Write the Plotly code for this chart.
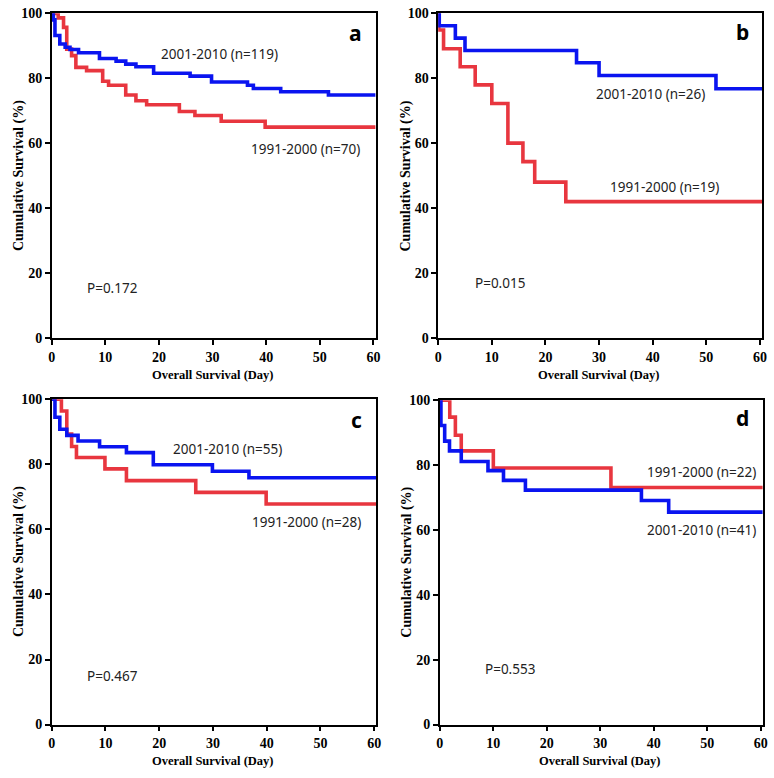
import plotly.graph_objects as go

# ---- data ----
X_MAX = 60.4

# Panel a
a_blue_t = [0, 0.3, 0.6, 1.5, 2.5, 3.4, 5.0, 8.9, 12.0, 13.8, 15.7, 19.0, 25.8, 29.8, 36.5, 37.6, 42.7, 51.6, X_MAX]
a_blue_s = [100, 98.0, 93.2, 90.6, 89.6, 88.9, 87.9, 86.1, 85.3, 84.4, 83.6, 81.6, 80.7, 78.9, 77.9, 76.9, 75.9, 74.9, 74.9]
a_red_t = [0, 1.2, 2.2, 2.8, 3.7, 4.5, 6.5, 9.5, 10.6, 13.8, 15.7, 17.7, 23.8, 26.7, 31.6, 39.8, X_MAX]
a_red_s = [100, 98.6, 95.7, 89.0, 87.0, 83.4, 82.4, 79.1, 77.9, 74.9, 73.1, 71.9, 69.8, 68.6, 66.8, 65.0, 65.0]

# Panel b
b_blue_t = [0, 0.2, 3.2, 5.0, 25.8, 30.0, 51.8, X_MAX]
b_blue_s = [100, 96.2, 92.4, 88.6, 84.8, 80.9, 76.8, 76.8]
b_red_t = [0, 0.1, 1.0, 4.1, 6.9, 10.0, 13.0, 15.8, 18.0, 23.8, X_MAX]
b_red_s = [100, 94.9, 89.1, 83.6, 78.0, 72.3, 60.1, 54.4, 48.1, 42.1, 42.1]

# Panel c
c_blue_t = [0, 0.6, 1.5, 2.8, 4.9, 8.9, 13.9, 18.9, 29.9, 36.7, X_MAX]
c_blue_s = [100, 94.5, 90.8, 88.9, 87.2, 85.4, 83.6, 79.9, 77.9, 75.9, 75.9]
c_red_t = [0, 1.8, 2.8, 3.7, 4.6, 9.9, 13.9, 26.8, 39.9, X_MAX]
c_red_s = [100, 96.4, 89.3, 85.5, 82.1, 78.6, 75.0, 71.4, 67.8, 67.8]

# Panel d
d_red_t = [0, 1.85, 2.9, 4.0, 10.0, 32.0, X_MAX]
d_red_s = [100, 94.8, 89.2, 84.4, 79.1, 73.1, 73.1]
d_blue_t = [0, 0.2, 0.9, 1.8, 4.0, 9.0, 11.9, 16.0, 37.7, 42.8, X_MAX]
d_blue_s = [100, 92.2, 87.4, 84.4, 81.1, 78.3, 75.3, 72.3, 69.1, 65.5, 65.5]

x_ticks = [0, 10, 20, 30, 40, 50, 60]
y_ticks = [0, 20, 40, 60, 80, 100]

panel_letters = ["a", "b", "c", "d"]
blue_labels = ["2001-2010 (n=119)", "2001-2010 (n=26)", "2001-2010 (n=55)", "2001-2010 (n=41)"]
red_labels = ["1991-2000 (n=70)", "1991-2000 (n=19)", "1991-2000 (n=28)", "1991-2000 (n=22)"]
p_values = ["P=0.172", "P=0.015", "P=0.467", "P=0.553"]

blue_label_pos = [(31.3, 87.6), (39.5, 75.2), (32.7, 84.7), (48.9, 60.0)]
red_label_pos = [(47.4, 58.2), (42.2, 46.5), (47.5, 62.2), (48.9, 77.8)]
p_pos = [(11.4, 15.6), (11.5, 17.1), (11.4, 14.9), (13.1, 17.1)]
letter_pos = [(56.6, 94.0), (56.7, 94.4), (56.7, 93.5), (56.6, 94.6)]

BLUE = "#0a14f0"
RED = "#e8363f"

W, H = 774, 778
# panel pixel boxes: (left, right, top, bottom)
boxes = [(48.3, 376.0, 6.5, 338.0),
         (439.3, 767.0, 6.5, 338.0),
         (48.3, 376.7, 400.0, 731.7),
         (441.0, 767.7, 401.0, 731.7)]

curves = [((a_red_t, a_red_s), (a_blue_t, a_blue_s)),
          ((b_red_t, b_red_s), (b_blue_t, b_blue_s)),
          ((c_red_t, c_red_s), (c_blue_t, c_blue_s)),
          ((d_red_t, d_red_s), (d_blue_t, d_blue_s))]

fig = go.Figure()
layout = dict(width=W, height=H, margin=dict(l=0, r=0, t=0, b=0),
              paper_bgcolor="white", plot_bgcolor="white", showlegend=False)
annotations = []

tickfont = dict(family="Liberation Serif", size=14, color="black", weight="bold")
ytitlefont = dict(family="Liberation Serif", size=14, color="black", weight="bold")
xtitlefont = dict(family="Liberation Serif", size=12.5, color="black", weight="bold")
textfont = dict(family="Noto Sans", size=13.5, color="#222222")

for i in range(4):
    n = "" if i == 0 else str(i + 1)
    xa, ya = "x" + n, "y" + n
    l, r, t, b = boxes[i]
    (rt, rs), (bt, bs) = curves[i]
    fig.add_trace(go.Scatter(x=rt, y=rs, mode="lines", line=dict(color=RED, width=3.6, shape="hv"),
                             xaxis=xa, yaxis=ya, hoverinfo="skip"))
    fig.add_trace(go.Scatter(x=bt, y=bs, mode="lines", line=dict(color=BLUE, width=3.6, shape="hv"),
                             xaxis=xa, yaxis=ya, hoverinfo="skip"))
    layout["xaxis" + n] = dict(domain=[l / W, r / W], range=[0, X_MAX], anchor=ya,
                               tickvals=x_ticks, ticks="outside", ticklen=5, tickwidth=1.5,
                               tickcolor="black", showline=True, linecolor="black", linewidth=1.5,
                               mirror=True, showgrid=False, zeroline=False, tickfont=tickfont)
    layout["yaxis" + n] = dict(domain=[1 - b / H, 1 - t / H], range=[0, 100], anchor=xa,
                               tickvals=y_ticks, ticks="outside", ticklen=5, tickwidth=1.5,
                               tickcolor="black", showline=True, linecolor="black", linewidth=1.5,
                               mirror=True, showgrid=False, zeroline=False, tickfont=tickfont)
    # axis titles
    annotations.append(dict(text="Overall Survival (Day)", xref="paper", yref="paper",
                            x=(l + (l + (r - l) * 60 / X_MAX)) / 2 / W, y=1 - (b + 37) / H,
                            showarrow=False, font=xtitlefont, xanchor="center", yanchor="middle"))
    annotations.append(dict(text="Cumulative Survival (%)", xref="paper", yref="paper",
                            x=(l - 33) / W, y=1 - ((t + b) / 2) / H, textangle=-90,
                            showarrow=False, font=ytitlefont, xanchor="center", yanchor="middle"))
    # in-plot texts
    for txt, (px, py) in [(blue_labels[i], blue_label_pos[i]), (red_labels[i], red_label_pos[i]),
                          (p_values[i], p_pos[i])]:
        annotations.append(dict(text=txt, xref=xa, yref=ya, x=px, y=py, showarrow=False,
                                font=textfont, xanchor="center", yanchor="middle"))
    annotations.append(dict(text="<b>" + panel_letters[i] + "</b>", xref=xa, yref=ya,
                            x=letter_pos[i][0], y=letter_pos[i][1], showarrow=False,
                            font=dict(family="Noto Sans", size=21, color="black"),
                            xanchor="center", yanchor="middle"))

layout["annotations"] = annotations
fig.update_layout(**layout)
fig.write_html("out.html", config={"displayModeBar": False},
               post_script="document.body.style.margin='0';document.body.style.overflow='hidden';")
